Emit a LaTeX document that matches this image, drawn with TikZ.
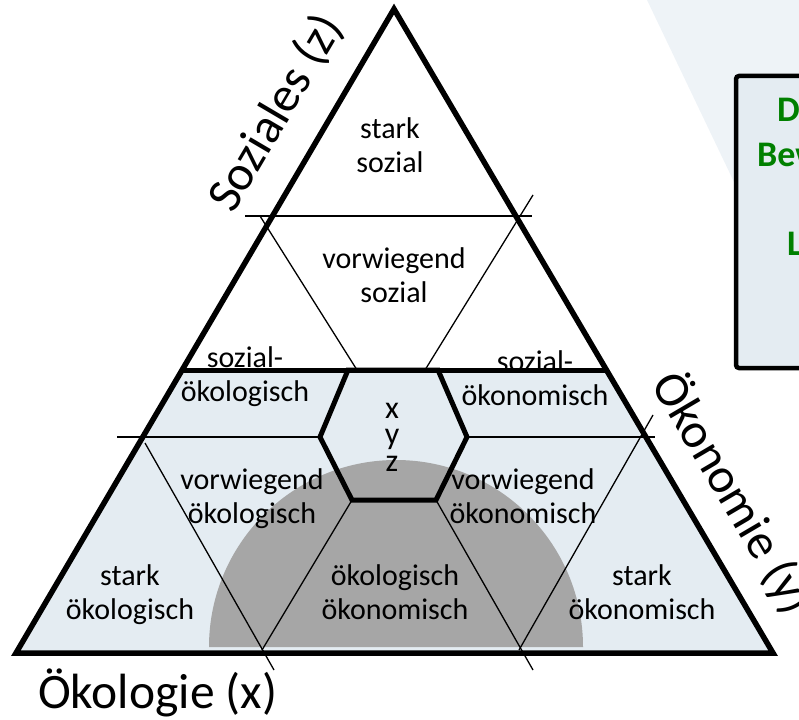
\documentclass[tikz,border=0pt]{standalone}
\usepackage{fontspec}
\setmainfont{Carlito}
\definecolor{lightfill}{RGB}{228,236,242}
\definecolor{faint}{RGB}{238,243,247}
\definecolor{semigray}{RGB}{166,166,166}
\definecolor{boxgreen}{RGB}{0,128,0}
\begin{document}
\begin{tikzpicture}[x=1pt,y=-1pt,
  border/.style={line width=5.5pt, line join=miter},
  thickline/.style={line width=5pt, line join=miter},
  thinline/.style={line width=1.3pt},
  lab/.style={font=\fontsize{30}{34}\selectfont, align=center, inner sep=0pt},
  axislab/.style={font=\fontsize{49.5}{52}\selectfont, inner sep=0pt},
  boxtxt/.style={font=\fontsize{36}{40}\selectfont\bfseries, text=boxgreen, inner sep=0pt, anchor=base west}]
\useasboundingbox (0,0) rectangle (799,719);
\clip (0,0) rectangle (799,719);
% faint background shape
\fill[faint] (647,0) -- (799,0) -- (799,318) -- cycle;
% coordinates
\coordinate (apex) at (394,9);
\coordinate (bl) at (16,653);
\coordinate (br) at (773,653);
\coordinate (sl) at (181,370);
\coordinate (sr) at (608,370);
\coordinate (hTL) at (348,370);
\coordinate (hTR) at (438,370);
\coordinate (hR) at (467,437);
\coordinate (hBR) at (436,500);
\coordinate (hBL) at (352,500);
\coordinate (hL) at (320,437);
% fills
\fill[lightfill] (sl) -- (sr) -- (br) -- (bl) -- cycle;
\fill[semigray] (209,647) arc[start angle=180, end angle=360, radius=187] -- cycle;
% thin grid lines
\coordinate (h1a) at (245,216); \coordinate (h1b) at (532,216);
\draw[thinline] (h1a) -- (h1b);
\coordinate (d1a) at (260,216); \coordinate (d1b) at (357,370);
\draw[thinline] (d1a) -- (d1b);
\coordinate (d2a) at (533,195); \coordinate (d2b) at (425,370);
\draw[thinline] (d2a) -- (d2b);
\coordinate (h2a) at (117,437); \coordinate (h2b) at (655,437);
\draw[thinline] (h2a) -- (hL);
\draw[thinline] (hR) -- (h2b);
\coordinate (d3a) at (145,443); \coordinate (d3b) at (274,670);
\draw[thinline] (d3a) -- (d3b);
\coordinate (b1) at (262,650);
\draw[thinline] (hBL) -- (b1);
\coordinate (d4b) at (533,670);
\draw[thinline] (hBR) -- (d4b);
\coordinate (d5a) at (653,415); \coordinate (b2) at (519,650);
\draw[thinline] (d5a) -- (b2);
% region labels
\node[lab] (starksoz) at (390,145) {stark\\sozial};
\node[lab] (vorsoz) at (394,275) {vorwiegend\\sozial};
\node[lab] (sozoek) at (245,377) {sozial-\\ökologisch};
\node[lab] (sozokon) at (535,378) {sozial-\\ökonomisch};
\node[lab, font=\fontsize{32}{26.5}\selectfont] (xyz) at (392,437) {x\\y\\z};
\node[lab] (voroek) at (252,499) {vorwiegend\\ökologisch};
\node[lab] (vorokon) at (523,496) {vorwiegend\\ökonomisch};
\node[lab] (starkoek) at (130,595) {stark\\ökologisch};
\node[lab] (oekokon) at (395,592) {ökologisch\\ökonomisch};
\node[lab] (starkokon) at (642,592) {stark\\ökonomisch};
% thick lines
\draw[thickline] (sl) -- (sr);
\draw[thickline] (hTL) -- (hTR) -- (hR) -- (hBR) -- (hBL) -- (hL) -- cycle;
\draw[border] (apex) -- (br) -- (bl) -- cycle;
% axis labels
\node[axislab, anchor=base west] (oekx) at (38,708) {Ökologie (x)};
\node[axislab, rotate=59.5] (sozz) at (276,113) {Soziales (z)};
\node[axislab, rotate=-59.5] (okony) at (733,493) {Ökonomie (y)};
% box at right
\draw[line width=4.5pt, fill=lightfill, rounded corners=3pt] (736,76) rectangle (840,368);
\node[boxtxt] (bt1) at (777,122) {D};
\node[boxtxt] (bt2) at (757,167) {Bew};
\node[boxtxt] (bt3) at (787,255) {L};
\end{tikzpicture}
\end{document}
